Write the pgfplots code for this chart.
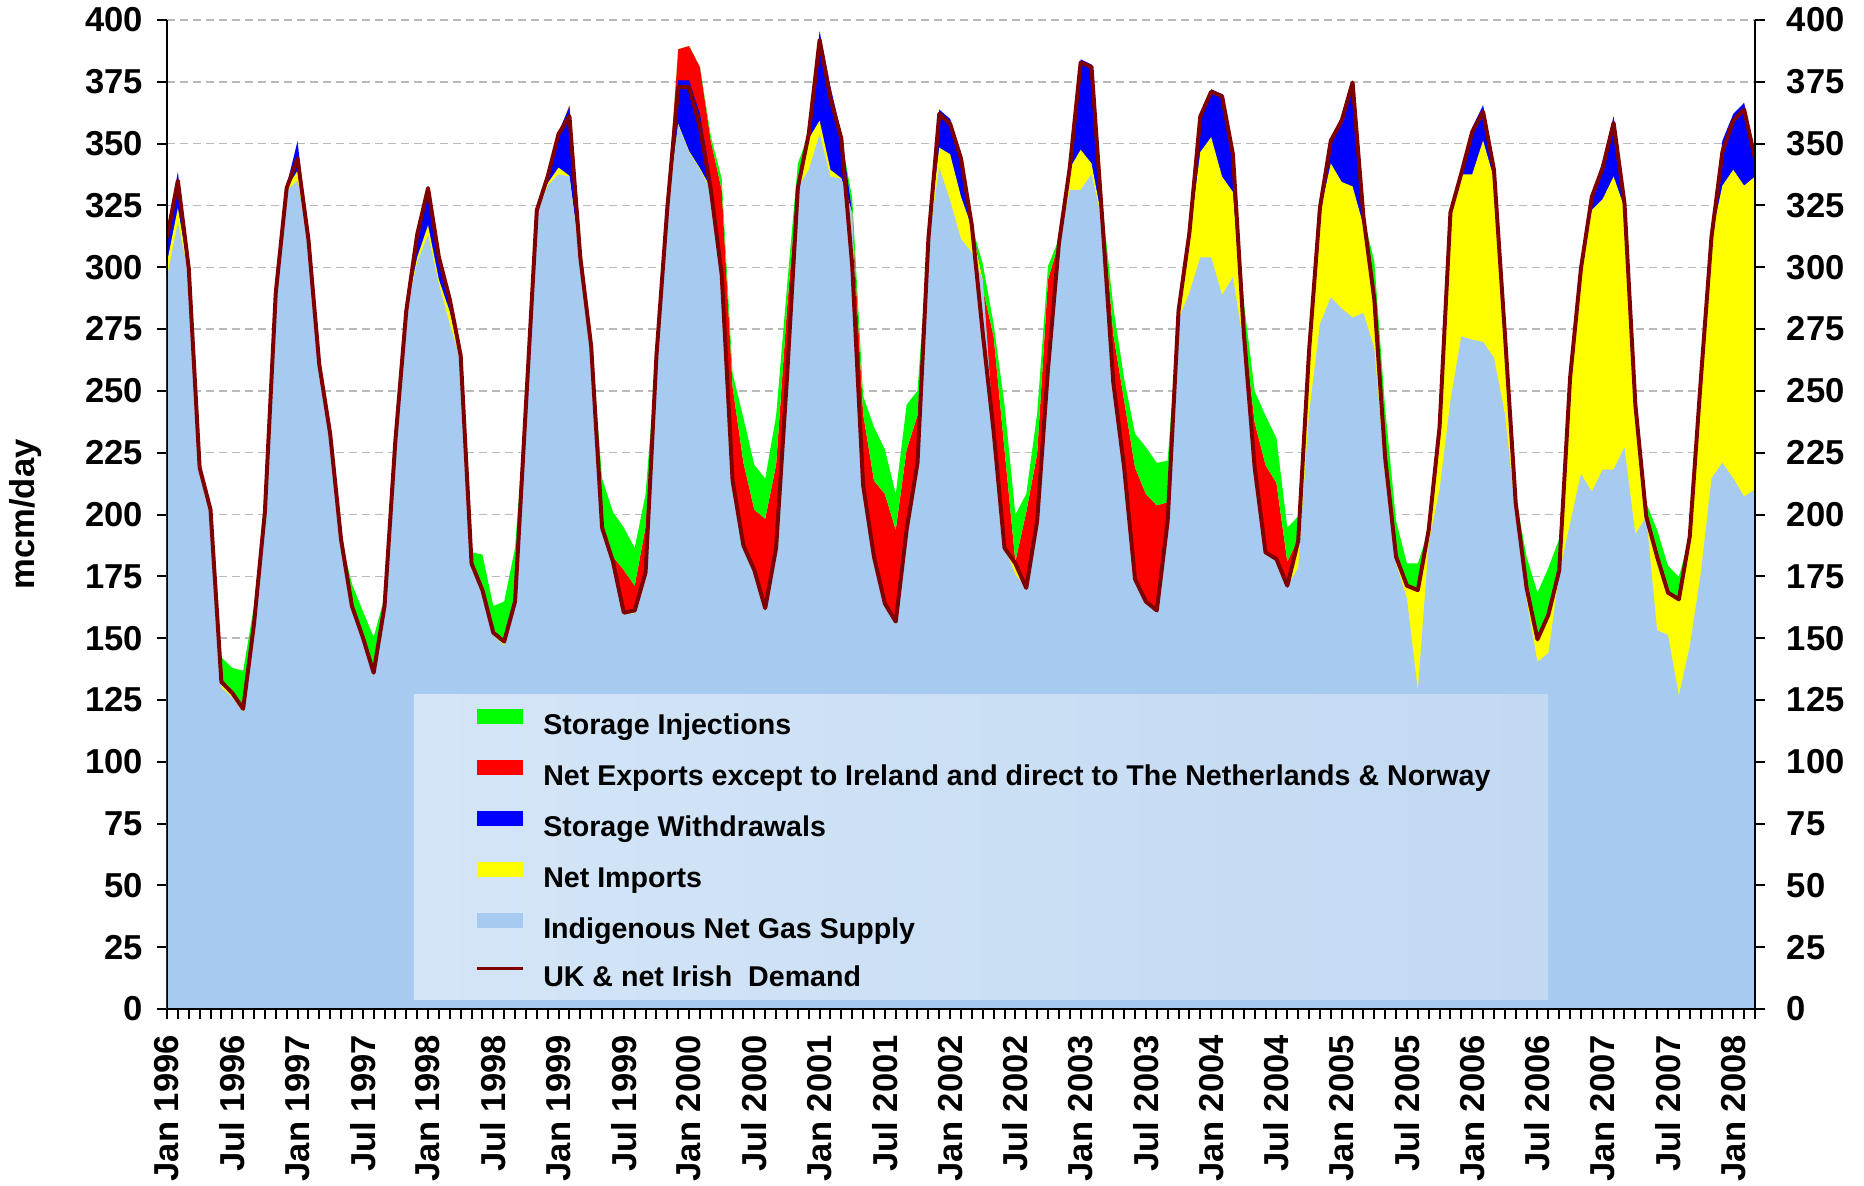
\documentclass[border=0pt]{standalone}
\usepackage{fontspec}
\setmainfont{Liberation Sans}
\usepackage{pgfplots}
\pgfplotsset{compat=1.18}
\usepackage{pgfplotstable}
\usepgfplotslibrary{fillbetween}
\definecolor{lb}{RGB}{166,202,240}
\definecolor{dem}{RGB}{128,0,0}
\definecolor{legL}{RGB}{212,229,247}
\definecolor{legR}{RGB}{194,217,242}
\definecolor{grn}{RGB}{0,255,0}
\definecolor{rd}{RGB}{255,0,0}
\definecolor{bl}{RGB}{0,0,255}
\definecolor{yl}{RGB}{255,255,0}
\newcommand{\tfont}{\bfseries\fontsize{17.3}{19}\selectfont}
\newcommand{\lfont}{\bfseries\fontsize{14.3}{16}\selectfont}
\pgfplotsset{lineleg/.style={legend image code/.code={\draw[##1] (0pt,5.2pt) -- (23pt,5.2pt);}}}
\pgfplotstableread{
m LB Y B D R G
0 296 302 314 312 312 312
1 318 324 338.6 335 335 335
2 297 298 300 299.6 299.6 299.6
3 218 219 219 219 219 219
4 200 202 202 202 202 202
5 130 133 133 132.3 132.3 142.2
6 126 128 128 127.8 127.8 138
7 120 122 122 121.4 121.4 136.8
8 155 156 156 155.8 155.8 163
9 200 201 201 201 201 206
10 289 290 290 289.7 289.7 289.7
11 331 332 333 332 332 332
12 335 339 351 344 344 344
13 310 311 312 311.4 311.4 311.4
14 260 260.7 260.7 260.7 260.7 260.7
15 232 232.7 232.7 232.7 232.7 232.7
16 189 190 190 190 190 190
17 162 163 163 163 163 172
18 150 150.4 150.4 150.4 150.4 161
19 135 136 136 136 136 150.4
20 162 163 163 163 163 166.6
21 229 230 230 230 230 230
22 282 282.4 282.4 282.4 282.4 282.4
23 302 304 315 313.2 313.2 313.2
24 313 317 331 332 332 332
25 293 295 302 304 304 304
26 277 282 285 287 287 287
27 262 263 264 264.3 264.3 264.3
28 178 180 180 180.2 180.2 184.7
29 168 170 170 169.4 169.4 183.8
30 151 152 152 152.2 152.2 163
31 147 148.6 148.6 148.6 148.6 164.8
32 164 164.8 164.8 164.8 164.8 186.5
33 244 244 244 244 244 246
34 322 323 323 323.1 323.1 323.1
35 333 334 338 336.7 336.7 336.7
36 337.6 340.3 354.8 353.9 353.9 353.9
37 336.7 337 364.7 361.1 365.5 365.5
38 302 303 306 304 304 304
39 266 267 268 268 270 270
40 194 194.7 194.7 194.7 197 214.6
41 180 181 181 181 183 201
42 160 160.3 160.3 160.3 177.5 194.7
43 160 161.2 161.2 161.2 171.2 186.5
44 176 176.6 176.6 176.6 195 208.3
45 264 264.3 264.3 264.3 264.3 264.3
46 323 324 324 324 326 326
47 357.5 358 375.6 372.9 388.2 388.2
48 346.6 347 375.6 372.9 389.5 389.5
49 339.4 340 362 356.6 381 381
50 331 332 336 331.3 351 353
51 297 297 297 297 331.3 335.8
52 213.7 213.7 213.7 213.7 251.7 257.1
53 187.4 187.4 187.4 187.4 220.9 239
54 177.5 177.5 177.5 177.5 201.9 220
55 162.1 162.1 162.1 162.1 198.3 214.6
56 186.5 186.5 186.5 186.5 220 239.9
57 255.3 255.3 255.3 255.3 283 292
58 332 332.2 332.2 332.2 336 342
59 339.4 352 356 353.9 353.9 353.9
60 353.9 359.3 395.5 391.9 391.9 391.9
61 336.7 339.4 372.9 368.3 368.3 368.3
62 335.8 336 354 352 352 352
63 322 322 322 300.5 322 328
64 211.9 211.9 211.9 211.9 240.8 248
65 182.9 182.9 182.9 182.9 213.7 235.4
66 164 164 164 164 208.3 226.3
67 156.7 156.7 156.7 156.7 193.8 208.3
68 193.8 193.8 193.8 193.8 226.3 244.4
69 220.9 220.9 220.9 220.9 240 250
70 310 311.4 311.4 311.4 311.4 311.4
71 340.3 348.4 363.8 362 362 362
72 327 345.7 360 358 358 358
73 311.4 328.5 345.7 344 344 344
74 306 316 317 316.8 316.8 316.8
75 295 295 295 273.4 291.5 301.4
76 233.6 233.6 233.6 233.6 272 277
77 186.5 186.5 186.5 186.5 226.3 244.4
78 175.7 180.2 180.2 180.2 181 200
79 170.3 170.3 170.3 170.3 201 208.3
80 197.4 197.4 197.4 197.4 224.5 240.8
81 258.9 258.9 258.9 258.9 295 300.5
82 309.6 309.6 309.6 309.6 310 311.4
83 331.3 340 340.5 340.3 340.3 340.3
84 331.3 347.5 384.1 382.8 382.8 382.8
85 337.6 342 382 381 381 381
86 318 318.6 320 318.6 325 325
87 253.5 253.5 253.5 253.5 273 284
88 219 219 219 219 246 255
89 173.9 173.9 173.9 173.9 219 232.7
90 164.8 164.8 164.8 164.8 208.3 227.2
91 161.2 161.2 161.2 161.2 203.7 220.9
92 197.4 197.4 197.4 197.4 205 221.8
93 278.8 282.4 282.4 282.4 282.4 282.4
94 289.7 312 314 314 314 314
95 304 346.6 362 361 361 361
96 304 352.6 372 371 371 371
97 288.8 336.7 370 369.2 369.2 369.2
98 296 330.4 347 345.7 345.7 345.7
99 268 273.4 273.4 273.4 276 286
100 219 219 219 219 237.2 249.9
101 184.7 184.7 184.7 184.7 220 240
102 182 182 182 182 212.8 230.9
103 171.2 171.2 171.2 171.2 181 194.7
104 178.4 189.3 189.3 189.3 190 199.2
105 240.8 266.1 266.1 266.1 266.1 266.1
106 277 322 324 324 324 324
107 287.8 342 352 351.2 351.2 351.2
108 283.3 334.5 361 359.3 359.3 359.3
109 279.7 332.7 375.6 374.7 374.7 374.7
110 281.5 316.8 321 320.4 320.4 320.4
111 267 287 287 287 290 302.3
112 215 222.7 222.7 222.7 225 242.6
113 180 182.9 182.9 182.9 184 197.4
114 166 171.2 171.2 171.2 171.2 180.2
115 128.7 169.4 169.4 169.4 169.4 180.2
116 188.4 193.8 193.8 193.8 193.8 193.8
117 210.1 235.4 235.4 235.4 235.4 235.4
118 246.2 322.2 322.2 322.2 322.2 322.2
119 272 337.6 338.5 338 338 338
120 270.7 337.6 356.5 354.8 354.8 354.8
121 269.8 351.2 365.6 362.9 362.9 362.9
122 263.4 335.8 340 339.4 339.4 339.4
123 240.8 273.4 273.4 273.4 273.4 275
124 200 204.6 204.6 204.6 204.6 207
125 165 170.3 170.3 170.3 170.3 182.9
126 140.4 149.5 149.5 149.5 149.5 168.4
127 144 159.4 159.4 159.4 159.4 178.4
128 176 177.5 177.5 177.5 177.5 190.2
129 196.5 255.3 255.3 255.3 255.3 255.3
130 216.4 299.6 299.6 299.6 299.6 299.6
131 209.2 323.1 329 328.5 328.5 328.5
132 218.2 327.6 343 340.3 340.3 340.3
133 218.2 336.7 361.1 358.4 358.4 358.4
134 227.2 324 326 325.8 325.8 325.8
135 192 244.4 244.4 244.4 244.4 246
136 199.2 199.2 199.2 199.2 199.2 204.6
137 153.1 182.9 182.9 182.9 182.9 193.8
138 151.3 168.4 168.4 168.4 168.4 179.3
139 126.8 165.7 165.7 165.7 165.7 174.8
140 146.7 191.1 191.1 191.1 191.1 191.1
141 175.7 253.5 253.5 253.5 253.5 253.5
142 214.6 312.3 312.3 312.3 312.3 312.3
143 220.9 333 351.2 346.6 346.6 346.6
144 214.6 339.4 362 359.3 359.3 359.3
145 207.3 333 366.5 363.8 363.8 363.8
146 210.1 336.7 345 343.9 343.9 343.9
}\data
\begin{document}
\begin{tikzpicture}
\pgfplotsset{common/.style={scale only axis, width=794pt, height=494.5pt,
  xmin=0, xmax=146, ymin=0, ymax=400,
  ytick={0,25,...,400}, xtick={0,6,...,144}, minor xtick={0,1,...,146},
  tick align=outside, major tick length=5pt, minor tick length=5pt,
  tick style={black, line width=1pt}, axis line style={black, line width=1pt},
  /pgf/number format/assume math mode=true,
  ticklabel style={font=\tfont}}}
\begin{axis}[common, name=ax,
  axis x line*=bottom, axis y line*=left,
  ymajorgrids, major grid style={gray!55, dash pattern=on 4pt off 2.5pt, line width=0.7pt},
  xticklabels={Jan 1996,Jul 1996,Jan 1997,Jul 1997,Jan 1998,Jul 1998,Jan 1999,Jul 1999,Jan 2000,Jul 2000,Jan 2001,Jul 2001,Jan 2002,Jul 2002,Jan 2003,Jul 2003,Jan 2004,Jul 2004,Jan 2005,Jul 2005,Jan 2006,Jul 2006,Jan 2007,Jul 2007,Jan 2008},
  xticklabel style={rotate=90, anchor=east},
  xticklabel shift=4.5pt, yticklabel shift=3.5pt,
  ylabel={mcm/day},
  ylabel style={at={(axis description cs:-0.0888,0.5)}, anchor=center, font=\tfont},
  legend cell align=left,
  legend style={draw=none, fill=none, at={(0.194,0.3036)}, anchor=north west,
    inner sep=0pt, row sep=9.27pt, column sep=9.5pt, font=\lfont,
    nodes={inner sep=0pt, text height=11pt, text depth=3.5pt}},
  legend image code/.code={\fill[#1] (0pt,1.5pt) rectangle (23pt,9pt);}]
\addplot[draw=none, fill=bl, forget plot] table[x=m,y=B]{\data} \closedcycle;
\addplot[draw=none, fill=yl, forget plot] table[x=m,y=Y]{\data} \closedcycle;
\addplot[draw=none, fill=lb, forget plot] table[x=m,y=LB]{\data} \closedcycle;
\addplot[draw=none, name path=pD, forget plot] table[x=m,y=D]{\data};
\addplot[draw=none, name path=pR, forget plot] table[x=m,y=R]{\data};
\addplot[draw=none, name path=pG, forget plot] table[x=m,y=G]{\data};
\addplot[fill=rd, draw=none, forget plot] fill between[of=pD and pR];
\addplot[fill=grn, draw=none, forget plot] fill between[of=pR and pG];
\addplot[dem, line width=2pt, line join=round, forget plot] table[x=m,y=D]{\data};
\fill[left color=legL, right color=legR] (rel axis cs:0.1555,0.0101) rectangle (rel axis cs:0.8697,0.3175);
\addlegendimage{fill=grn, draw=none}
\addlegendentry{Storage Injections}
\addlegendimage{fill=rd, draw=none}
\addlegendentry{Net Exports except to Ireland and direct to The Netherlands \& Norway}
\addlegendimage{fill=bl, draw=none}
\addlegendentry{Storage Withdrawals}
\addlegendimage{fill=yl, draw=none}
\addlegendentry{Net Imports}
\addlegendimage{fill=lb, draw=none}
\addlegendentry{Indigenous Net Gas Supply}
\addlegendimage{lineleg, dem, line width=1.4pt}
\addlegendentry{UK \& net Irish\ \ Demand}
\end{axis}
\begin{axis}[common, axis x line*=bottom, axis y line*=right,
  xticklabels={}, yticklabel shift=7.4pt]
\draw[black, line width=1pt] (rel axis cs:0,0) -- (rel axis cs:0,1);
\end{axis}
\pgfresetboundingbox
\path[use as bounding box] (ax.south west) ++(-83.5pt,-88pt) rectangle ++(932pt,592.5pt);
\end{tikzpicture}
\end{document}
